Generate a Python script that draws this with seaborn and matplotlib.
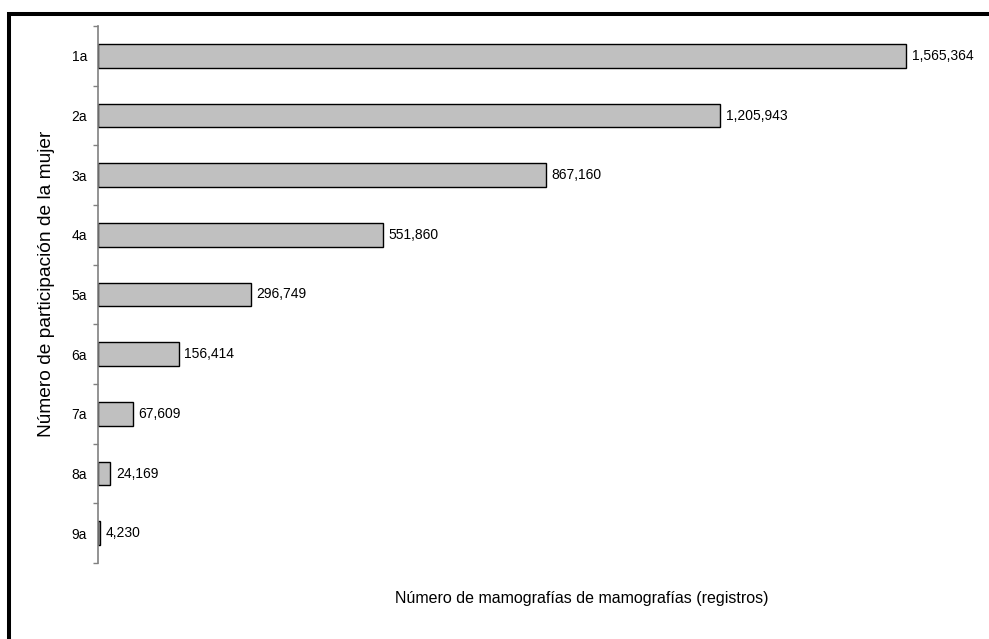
import matplotlib
matplotlib.use("Agg")
import matplotlib.pyplot as plt
import matplotlib.patches as mpatches
from matplotlib.ticker import FixedLocator
import numpy as np
import pandas as pd
import seaborn as sns

categories = ["1a", "2a", "3a", "4a", "5a", "6a", "7a", "8a", "9a"]
values = [1565364, 1205943, 867160, 551860, 296749, 156414, 67609, 24169, 4230]
value_labels = ["1,565,364", "1,205,943", "867,160", "551,860", "296,749",
                "156,414", "67,609", "24,169", "4,230"]

sns.set_theme(style="white")
plt.rcParams["font.family"] = ["Liberation Sans", "DejaVu Sans"]
plt.rcParams["text.color"] = "black"
plt.rcParams["axes.labelcolor"] = "black"
plt.rcParams["ytick.labelcolor"] = "black"

df = pd.DataFrame({"participacion": categories, "mamografias": values})

W, H = 989, 639
fig = plt.figure(figsize=(W / 100, H / 100), dpi=100)
ax_left, ax_right, ax_top, ax_bottom = 98, 980, 26, 563
ax = fig.add_axes([ax_left / W, 1 - ax_bottom / H,
                   (ax_right - ax_left) / W, (ax_bottom - ax_top) / H])

sns.barplot(data=df, x="mamografias", y="participacion", orient="h",
            color="#C0C0C0", edgecolor="black", linewidth=1.0,
            width=0.4, saturation=1, ax=ax)

# scale so the longest bar ends near the right side of the plot
ax.set_xlim(0, 1565364 * (ax_right - ax_left) / 808)
ax.set_ylim(len(categories) - 0.5, -0.5)

for i, (v, lab) in enumerate(zip(values, value_labels)):
    ax.annotate(lab, xy=(v, i), xytext=(4, 0), textcoords="offset points",
                ha="left", va="center", fontsize=10, color="black")

for side in ["top", "right", "bottom"]:
    ax.spines[side].set_visible(False)
ax.spines["left"].set_color("#808080")
ax.spines["left"].set_linewidth(1.2)

ax.set_xticks([])
ax.tick_params(axis="y", which="major", length=0, pad=8, labelsize=10,
               labelcolor="black")
ax.yaxis.set_minor_locator(FixedLocator(np.arange(-0.5, len(categories), 1.0)))
ax.tick_params(axis="y", which="minor", left=True, length=3.5, width=1.0,
               color="#808080", direction="out")

ax.set_ylabel("Número de participación de la mujer", fontsize=13.8, va="center")
ax.yaxis.set_label_coords((47 - ax_left) / (ax_right - ax_left),
                          (ax_bottom - 284) / (ax_bottom - ax_top))
ax.set_xlabel("Número de mamografías de mamografías (registros)", fontsize=11.5)
ax.xaxis.set_label_coords((582 - ax_left) / (ax_right - ax_left),
                          (ax_bottom - 591) / (ax_bottom - ax_top))

# frame around the chart area (top and left edges visible)
frame = mpatches.Rectangle((9 / W, -0.5), 2.0, (1 - 14 / H) + 0.5,
                           transform=fig.transFigure, fill=False,
                           lw=2.9, ec="black", clip_on=False)
fig.patches.append(frame)

fig.savefig("out.png", dpi=100, facecolor="white")
